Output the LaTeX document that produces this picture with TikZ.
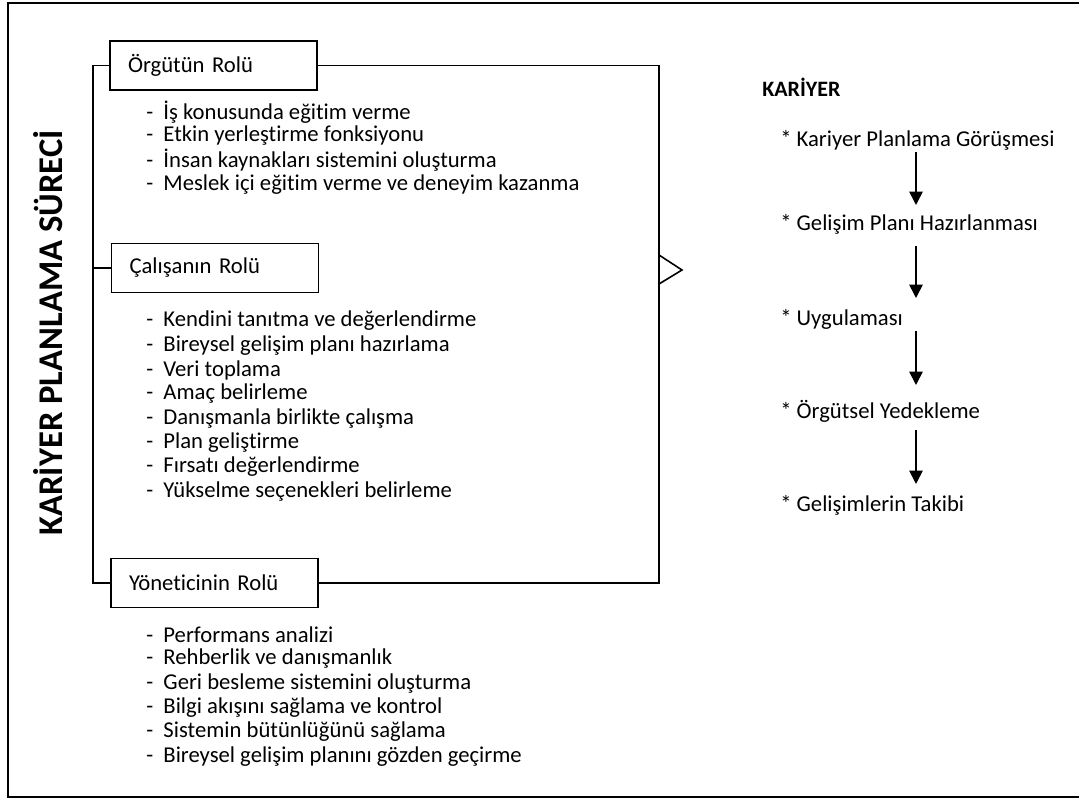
\documentclass[tikz,border=0pt]{standalone}
\usepackage{fontspec}
\setmainfont{Carlito}[Ligatures={NoCommon}]
\usetikzlibrary{arrows.meta}
\begin{document}
\begin{tikzpicture}[x=0.75pt,y=-0.75pt,
  frame/.style={line width=1.6pt},
  wire/.style={line width=1.2pt},
  body/.style={font=\fontsize{17pt}{20pt}\selectfont},
  rolebox/.style={body, draw, line width=1.2pt, minimum height=36.75pt, text width=128.25pt,
    inner xsep=13.5pt, align=left},
  item/.style={body, anchor=west, inner sep=0pt},
  flow/.style={-{Triangle[length=10pt,width=10pt]}, line width=1.2pt},
  title/.style={font=\fontsize{26pt}{29pt}\selectfont\bfseries, rotate=90}]
\useasboundingbox (0,0) rectangle (1079,800);
% outer frame
\draw[frame] (8,3) rectangle (1090,797);

% vertical title
\node[title] (ttl) at (48,333) {KARİYER PLANLAMA SÜRECİ};

% role boxes
\node[rolebox] (org) at (213.5,65.5) {Örgütün Rolü};
\node[rolebox] (cal) at (215,268) {Çalışanın Rolü};
\node[rolebox] (yon) at (214.5,583) {Yöneticinin Rolü};

% bracket joining the three roles
\coordinate (bl) at (93,65.5);
\coordinate (rt) at (659,65.5);
\draw[wire] (org.west) -- (bl) |- (yon.west);
\draw[wire] (cal.west) -- (cal.west -| bl);
\draw[wire] (org.east) -- (rt) |- (yon.east);
\draw[wire, line join=miter] (659,255) -- (682,270) -- (659,284);

% organisation duties
\node[item] (o1) at (146,112) {-~~İş konusunda eğitim verme};
\node[item] (o2) at (146,136) {-~~Etkin yerleştirme fonksiyonu};
\node[item] (o3) at (146,160.5) {-~~İnsan kaynakları sistemini oluşturma};
\node[item] (o4) at (146,185) {-~~Meslek içi eğitim verme ve deneyim kazanma};

% employee duties
\node[item] (c1) at (146,321) {-~~Kendini tanıtma ve değerlendirme};
\node[item] (c2) at (146,345.5) {-~~Bireysel gelişim planı hazırlama};
\node[item] (c3) at (146,370) {-~~Veri toplama};
\node[item] (c4) at (146,394) {-~~Amaç belirleme};
\node[item] (c5) at (146,418.5) {-~~Danışmanla birlikte çalışma};
\node[item] (c6) at (146,443) {-~~Plan geliştirme};
\node[item] (c7) at (146,467) {-~~Fırsatı değerlendirme};
\node[item] (c8) at (146,491.5) {-~~Yükselme seçenekleri belirleme};

% manager duties
\node[item] (y1) at (146,635) {-~~Performans analizi};
\node[item] (y2) at (146,659) {-~~Rehberlik ve danışmanlık};
\node[item] (y3) at (146,683.5) {-~~Geri besleme sistemini oluşturma};
\node[item] (y4) at (146,708) {-~~Bilgi akışını sağlama ve kontrol};
\node[item] (y5) at (146,732) {-~~Sistemin bütünlüğünü sağlama};
\node[item] (y6) at (146,757) {-~~Bireysel gelişim planını gözden geçirme};

% career steps
\node[item, font=\fontsize{16.5pt}{19pt}\selectfont\bfseries] (kar) at (762,87) {KARİYER};
\node[item] (k1) at (780,140) {* Kariyer Planlama Görüşmesi};
\node[item] (k2) at (780,224) {* Gelişim Planı Hazırlanması};
\node[item] (k3) at (780,319) {* Uygulaması};
\node[item] (k4) at (780,411) {* Örgütsel Yedekleme};
\node[item] (k5) at (780,505) {* Gelişimlerin Takibi};

\draw[flow] (916,152) -- (916,205);
\draw[flow] (916,246) -- (916,298);
\draw[flow] (916,331) -- (916,385);
\draw[flow] (916,430) -- (916,484);
\end{tikzpicture}
\end{document}
